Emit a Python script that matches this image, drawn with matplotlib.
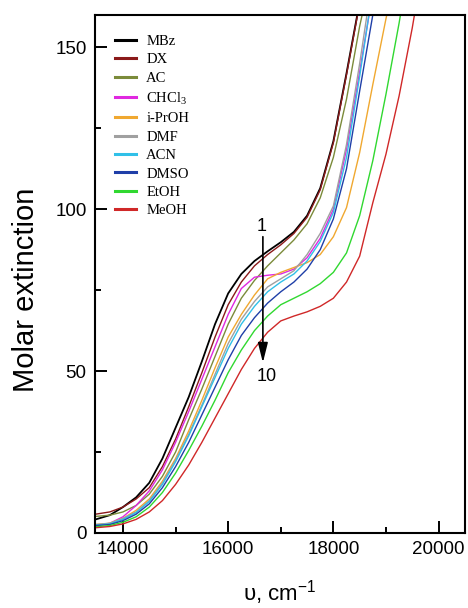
import numpy as np
import matplotlib
matplotlib.use("Agg")
import matplotlib.pyplot as plt

plt.rcParams['font.family'] = ['Liberation Sans', 'DejaVu Sans']
plt.rcParams['mathtext.fontset'] = 'custom'
plt.rcParams['mathtext.rm'] = 'Liberation Serif'

nan = np.nan

# wavenumber grid, cm-1
wn = [13400, 13750, 14000, 14250, 14500, 14750, 15000, 15250, 15500, 15750,
      16000, 16250, 16500, 16750, 17000, 17250, 17500, 17750, 18000, 18250,
      18500, 18750, 19000, 19250, 19500, 19750]

mbz = [3.8, 5.5, 8.0, 11.0, 15.5, 23.0, 32.5, 42.0, 53.0, 64.5,
       74.0, 80.0, 84.0, 87.0, 89.8, 93.0, 98.0, 106.5, 121.0, 142.0,
       164.0, nan, nan, nan, nan, nan]
dx = [5.6, 6.5, 8.0, 10.5, 14.0, 20.5, 29.0, 39.0, 49.5, 60.5,
      70.5, 77.5, 82.5, 86.0, 89.0, 92.5, 97.5, 106.0, 120.5, 141.5,
      163.5, nan, nan, nan, nan, nan]
ac = [5.0, 5.5, 6.5, 8.5, 12.0, 17.5, 25.0, 35.0, 44.5, 54.5,
      64.5, 72.5, 78.0, 82.5, 86.5, 90.5, 95.5, 103.5, 116.0, 134.0,
      156.5, 175.0, nan, nan, nan, nan]
chcl3 = [2.0, 3.0, 5.0, 8.5, 13.0, 19.5, 28.0, 37.5, 47.5, 57.5,
         67.5, 75.5, 79.0, 79.6, 80.0, 81.5, 85.0, 91.0, 100.0, 118.5,
         142.5, 167.0, nan, nan, nan, nan]
iproh = [2.5, 3.0, 4.5, 7.0, 10.5, 16.0, 23.0, 31.5, 41.0, 51.0,
         60.5, 67.5, 73.5, 78.5, 80.5, 82.0, 83.5, 86.0, 91.5, 100.5,
         117.5, 138.5, 158.8, 178.0, nan, nan]
dmf = [2.5, 3.0, 4.5, 6.5, 10.0, 15.5, 22.5, 30.5, 39.5, 49.0,
       58.5, 66.0, 71.5, 76.0, 78.5, 81.0, 86.0, 92.5, 101.0, 120.0,
       145.0, 172.0, nan, nan, nan, nan]
acn = [2.3, 2.8, 4.2, 6.3, 9.7, 15.0, 22.0, 30.0, 39.0, 48.0,
       57.0, 64.5, 70.0, 74.5, 77.5, 80.0, 84.0, 90.0, 99.0, 116.0,
       141.0, 168.0, nan, nan, nan, nan]
dmso = [2.2, 2.6, 3.8, 5.8, 9.0, 14.0, 20.5, 28.0, 36.5, 45.0,
        53.5, 61.0, 66.5, 71.0, 74.5, 77.5, 81.5, 87.5, 97.0, 112.5,
        136.5, 160.0, 185.0, nan, nan, nan]
etoh = [1.8, 2.3, 3.3, 5.0, 8.0, 12.5, 18.5, 25.5, 33.0, 41.0,
        49.5, 56.5, 62.5, 67.0, 70.5, 72.5, 74.5, 77.0, 80.5, 86.5,
        98.0, 115.0, 135.5, 157.5, 182.0, nan]
meoh = [1.5, 2.0, 2.8, 4.2, 6.5, 10.0, 15.0, 21.0, 28.0, 35.5,
        43.0, 50.5, 57.0, 62.0, 65.5, 67.0, 68.3, 70.0, 72.5, 77.5,
        85.5, 102.0, 117.0, 135.0, 156.0, 180.0]

solvents = ['MBz', 'DX', 'AC', 'CHCl$_\\mathregular{3}$', 'i-PrOH', 'DMF',
            'ACN', 'DMSO', 'EtOH', 'MeOH']
spectra = [mbz, dx, ac, chcl3, iproh, dmf, acn, dmso, etoh, meoh]
colors = ['#000000', '#8b1a1a', '#7b8b3a', '#e028e0', '#f0a830', '#a0a0a0',
          '#30c0e8', '#1f3fa8', '#30d830', '#d02828']

fig = plt.figure(figsize=(4.68, 6.08), dpi=100)
ax = fig.add_axes([0.203, 0.1234, 0.7906, 0.852])

for name, y, c in zip(solvents, spectra, colors):
    lw = 1.3 if c == '#000000' else 1.0
    ax.plot(wn, y, color=c, lw=lw, label=name)

ax.set_xlim(13468, 20503)
ax.set_ylim(0, 160)
ax.set_xticks([14000, 16000, 18000, 20000])
ax.set_xticks([15000, 17000, 19000], minor=True)
ax.set_yticks([0, 50, 100, 150])
ax.set_yticks([25, 75, 125], minor=True)
ax.tick_params(which='both', direction='in', top=False, right=False,
               width=1.4, labelsize=13.5)
ax.tick_params(which='major', length=8.5, pad=6)
ax.tick_params(which='minor', length=4.5)
for s in ax.spines.values():
    s.set_linewidth(1.5)

ax.set_ylabel('Molar extinction', fontsize=21)
ax.yaxis.set_label_coords(-0.15, 0.47)
ax.set_xlabel('υ, cm$^{\\mathregular{-1}}$', fontsize=16, labelpad=14)

# arrow from curve 1 down to curve 10
ax.annotate('', xy=(16660, 52.6), xytext=(16660, 91.5),
            arrowprops=dict(arrowstyle='-|>,head_length=0.6,head_width=0.15',
                            color='k', lw=1.2, mutation_scale=20,
                            shrinkA=0, shrinkB=0))
ax.text(16640, 94.6, '1', fontsize=13, ha='center', va='center')
ax.text(16740, 48.2, '10', fontsize=13, ha='center', va='center')

leg = ax.legend(loc='upper left', bbox_to_anchor=(0.054, 0.962), frameon=False,
                prop={'family': 'Liberation Serif', 'size': 10.5},
                handlelength=1.45, handletextpad=0.7, labelspacing=0.36,
                borderpad=0.0, borderaxespad=0.0)
for h in leg.get_lines():
    h.set_linewidth(2.2)

fig.savefig('out.png', dpi=100)
